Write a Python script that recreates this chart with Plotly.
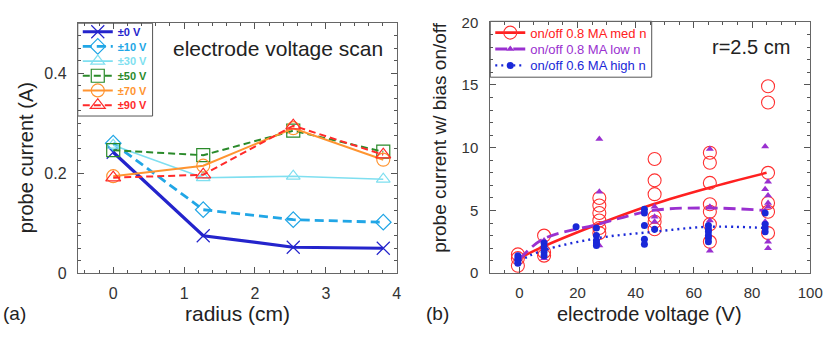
import plotly.graph_objects as go

# ---------------- panel (a): probe current vs radius ----------------
radius_cm = [0, 1.27, 2.54, 3.81]
current_0V = [0.242, 0.075, 0.052, 0.050]
current_10V = [0.260, 0.127, 0.107, 0.102]
current_30V = [0.256, 0.191, 0.194, 0.188]
current_50V = [0.246, 0.236, 0.285, 0.243]
current_70V = [0.194, 0.215, 0.290, 0.227]
current_90V = [0.191, 0.197, 0.295, 0.237]

bias_labels = ["±0 V", "±10 V", "±30 V", "±50 V", "±70 V", "±90 V"]

# ---------------- panel (b): probe current ratio vs electrode voltage ----------------
med_n_volts = [-0.5, -0.5, -0.5,
               8.5, 8.5, 8.5,
               27.5, 27.5, 27.5, 27.5, 27.5, 27.5,
               46.5, 46.5, 46.5, 46.5, 46.5, 46.5,
               65.5, 65.5, 65.5, 65.5, 65.5, 65.5, 65.5,
               85.5, 85.5, 85.5, 85.5, 85.5, 85.5]
med_n_ratio = [1.5, 1.2, 0.6,
               3.0, 1.7, 1.4,
               6.0, 5.4, 4.8, 4.2, 3.6, 3.2,
               9.1, 7.4, 6.3, 4.5, 4.1, 3.5,
               9.6, 8.8, 7.2, 5.5, 4.9, 3.9, 2.5,
               14.9, 13.6, 8.0, 5.6, 4.9, 3.2]

low_n_volts = [-0.5, -0.5,
               8.5, 8.5, 8.5,
               27.5, 27.5, 27.5,
               46.5, 46.5, 46.5,
               65.5, 65.5, 65.5, 65.5,
               84.5, 85.5, 84.5, 85.5, 85.5, 85.5, 84.5, 85.5, 85.5]
low_n_ratio = [1.2, 0.9,
               2.6, 2.0, 1.2,
               10.7, 6.5, 2.2,
               5.3, 4.5, 4.1,
               9.9, 5.3, 4.2, 1.8,
               10.1, 7.3, 6.7, 6.2, 5.6, 5.3, 4.1, 2.5, 2.0]

high_n_volts = [-0.5, -0.5, -0.5, -0.5,
                8.5, 8.5, 8.5, 8.5,
                19.5,
                26.5, 26.5, 26.5, 26.5, 26.5,
                43, 43, 43, 43, 43, 46.5,
                65, 65, 65, 65, 65, 65,
                84.5, 84.5, 84.5, 84.5]
high_n_ratio = [1.4, 1.2, 1.0, 0.8,
                2.4, 2.1, 1.7, 1.4,
                3.7,
                3.6, 3.0, 2.6, 2.4, 2.2,
                5.1, 4.8, 3.8, 2.7, 2.3, 3.5,
                3.8, 3.5, 3.3, 3.0, 2.8, 2.5,
                4.8, 3.9, 3.6, 3.3]

# trend curves through each data set
trend_volts = [0, 8, 27, 46, 65, 85]
trend_med_n = [1.2, 2.1, 3.9, 5.5, 6.8, 8.0]
trend_low_n = [1.1, 2.7, 3.9, 5.0, 5.2, 5.0]
trend_high_n = [1.0, 1.8, 2.8, 3.3, 3.7, 3.6]

series_labels = ["on/off 0.8 MA med n", "on/off 0.8 MA low n", "on/off 0.6 MA high n"]

FONT = "Liberation Sans, Arial, Helvetica, sans-serif"
W, H = 837, 340


def px(x):
    return x / W


def py(y):
    return 1 - y / H


fig = go.Figure()
legends = {}

# ---- panel (a) traces: one compact legend slot per bias level ----
styles_a = [
    (current_0V, "#2424CC", 3.2, "solid", "x-thin", 13),
    (current_10V, "#21A6E6", 2.8, "9px,5px", "diamond-open", 12),
    (current_30V, "#7FDFF0", 1.6, "solid", "triangle-up-open", 12),
    (current_50V, "#2A8A2A", 2.0, "7px,4px", "square-open", 13),
    (current_70V, "#FF9430", 2.0, "solid", "circle-open", 13),
    (current_90V, "#FF2A2A", 2.0, "7px,4px", "triangle-up-open", 13),
]
for i, (label, (vals, col, lw, dash, sym, msz)) in enumerate(zip(bias_labels, styles_a)):
    lg = "legend" if i == 0 else f"legend{i + 1}"
    legends[lg] = dict(x=px(79), y=py(24 + 15.5 * i), size=11)
    fig.add_trace(go.Scatter(
        x=radius_cm, y=vals, mode="lines+markers",
        name=f"<span style='color:{col}'><b>{label}</b></span>",
        line=dict(color=col, width=lw, dash=dash),
        marker=dict(symbol=sym, size=msz, color=col,
                    line=dict(color=col, width=1.2)),
        xaxis="x", yaxis="y", legend=lg,
    ))

# ---- panel (b) traces ----
styles_b = [
    (med_n_volts, med_n_ratio, trend_med_n, "#FF2020", 2.6, "solid",
     dict(symbol="circle-open", size=13, color="#FF3030", line=dict(color="#FF3030", width=1.1))),
    (low_n_volts, low_n_ratio, trend_low_n, "#9A30D0", 2.8, "12px,6px",
     dict(symbol="triangle-up", size=7, color="#9A30D0", line=dict(width=0))),
    (high_n_volts, high_n_ratio, trend_high_n, "#1A28D8", 2.4, "2px,4px",
     dict(symbol="circle", size=7, color="#1A28D8", line=dict(width=0))),
]
for j, (label, (vx, vy, trend, col, lw, dash, mk)) in enumerate(zip(series_labels, styles_b)):
    lg = f"legend{7 + j}"
    legends[lg] = dict(x=px(498), y=py(25 + 17.3 * j), size=13)
    fig.add_trace(go.Scatter(
        x=trend_volts, y=trend, mode="lines", line_shape="spline",
        line=dict(color=col, width=lw, dash=dash),
        showlegend=False, xaxis="x2", yaxis="y2", hoverinfo="skip",
    ))
    fig.add_trace(go.Scatter(
        x=vx, y=vy, mode="markers", marker=mk,
        showlegend=False, xaxis="x2", yaxis="y2",
    ))
    # legend entry showing both the curve style and the marker
    fig.add_trace(go.Scatter(
        x=[None], y=[None], mode="lines+markers",
        name=f"<span style='color:{col}'>{label}</span>",
        line=dict(color=col, width=lw, dash=dash), marker=mk,
        xaxis="x2", yaxis="y2", legend=lg,
    ))

axis_common = dict(
    showline=True, linecolor="#666", linewidth=1, mirror="ticks",
    ticks="inside", ticklen=6, tickcolor="#555", tickwidth=1,
    showgrid=False, zeroline=False,
    tickfont=dict(family=FONT, color="#333"),
)

layout = dict(
    width=W, height=H,
    margin=dict(l=0, r=0, t=0, b=0),
    paper_bgcolor="white", plot_bgcolor="white",
    font=dict(family=FONT, color="#222"),
    showlegend=True,
    xaxis=dict(axis_common, domain=[px(79), px(403)], range=[-0.5, 4],
               tick0=0, dtick=1, tickfont_size=16, ticklabelstandoff=6,
               minor=dict(ticks="inside", dtick=0.2, ticklen=3, tickcolor="#555"),
               anchor="y"),
    yaxis=dict(axis_common, domain=[py(279), py(15)], range=[0, 0.5],
               tick0=0, dtick=0.2, tickfont_size=16, ticklabelstandoff=7,
               minor=dict(ticks="inside", dtick=0.025, ticklen=3, tickcolor="#555"),
               anchor="x"),
    xaxis2=dict(axis_common, domain=[px(498), px(823)], range=[-10, 100],
                tick0=0, dtick=20, tickfont_size=15, ticklabelstandoff=6,
                minor=dict(ticks="inside", dtick=5, ticklen=3, tickcolor="#555"),
                anchor="y2"),
    yaxis2=dict(axis_common, domain=[py(279), py(14)], range=[0, 20],
                tick0=0, dtick=5, tickfont_size=15, ticklabelstandoff=8,
                minor=dict(ticks="inside", dtick=1, ticklen=3, tickcolor="#555"),
                anchor="x2"),
)
for name, spec in legends.items():
    layout[name] = dict(
        x=spec["x"], y=spec["y"], xanchor="left", yanchor="middle",
        bgcolor="rgba(0,0,0,0)", borderwidth=0,
        font=dict(family=FONT, size=spec["size"]), itemwidth=30,
    )
fig.update_layout(**layout)

# frames around the two legends
for x0, y0, x1, y1 in [(79, 15, 155, 113), (498, 13, 662, 72)]:
    fig.add_shape(type="rect", xref="paper", yref="paper",
                  x0=px(x0), x1=px(x1), y0=py(y1), y1=py(y0),
                  line=dict(color="#555", width=1), fillcolor="white", layer="below")

notes = [
    ("electrode voltage scan", 282, 42, 21, 0),
    ("r=2.5 cm", 763, 40, 20, 0),
    ("radius (cm)", 241, 322, 21, 0),
    ("electrode voltage (V)", 660, 322, 20, 0),
    ("probe current (A)", 26, 157, 20, -90),
    ("probe current w/ bias on/off", 447, 136, 19, -90),
    ("(a)", 15, 322, 19, 0),
    ("(b)", 444, 322, 19, 0),
]
for text, x, y, size, ang in notes:
    fig.add_annotation(
        text=text, x=px(x), y=py(y), xref="paper", yref="paper",
        xanchor="center", yanchor="middle", showarrow=False, textangle=ang,
        font=dict(family=FONT, size=size, color="#222"),
    )

fig.write_html("out.html")
